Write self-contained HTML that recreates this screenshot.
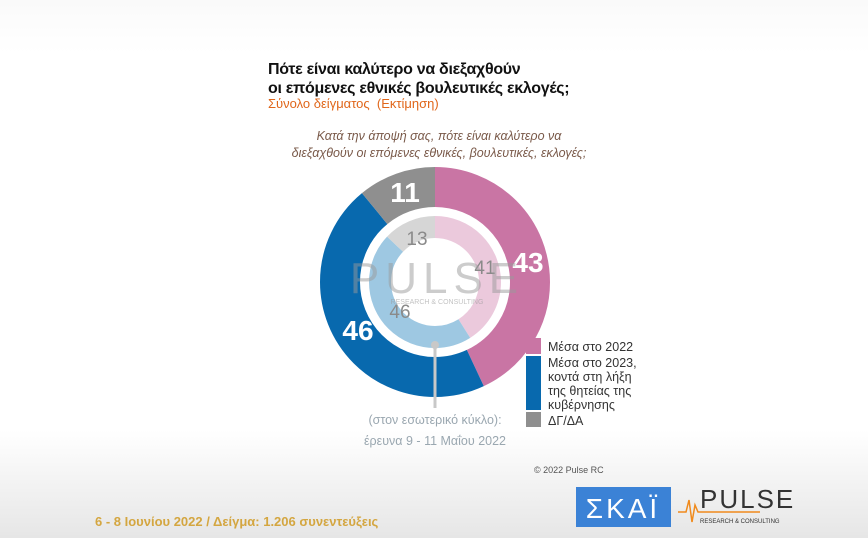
<!DOCTYPE html>
<html><head><meta charset="utf-8"><style>
body{margin:0;width:868px;height:538px;overflow:hidden;background:linear-gradient(#fafafa 0%,#fff 10%,#fff 80%,#e6e6e6 100%);font-family:"Liberation Sans","DejaVu Sans",sans-serif;position:relative}
.a{position:absolute;white-space:nowrap}
</style></head><body>
<div class="a" style="left:268px;top:60px;font-size:16px;font-weight:bold;line-height:19px;color:#111;letter-spacing:-0.3px">Πότε είναι καλύτερο να διεξαχθούν<br>οι επόμενες εθνικές βουλευτικές εκλογές;</div>
<div class="a" style="left:268px;top:96px;font-size:13px;color:#e0661a">Σύνολο δείγματος &nbsp;(Εκτίμηση)</div>
<div class="a" style="left:274px;top:128px;width:330px;text-align:center;font-size:12.5px;font-style:italic;color:#7a5a4a;line-height:17px">Κατά την άποψή σας, πότε είναι καλύτερο να<br>διεξαχθούν οι επόμενες εθνικές, βουλευτικές, εκλογές;</div>
<svg class="a" style="left:0;top:0" width="868" height="538">
<g transform="rotate(-90 435 282)">
<circle cx="435" cy="282" r="95" fill="none" stroke="#c975a4" stroke-width="40" stroke-dasharray="256.7 1000"/>
<circle cx="435" cy="282" r="95" fill="none" stroke="#0869ae" stroke-width="40" stroke-dasharray="0 256.7 274.6 1000"/>
<circle cx="435" cy="282" r="95" fill="none" stroke="#8f8f8f" stroke-width="40" stroke-dasharray="0 531.3 65.6 1000"/>
<circle cx="435" cy="282" r="55" fill="none" stroke="#ebc9dc" stroke-width="22" stroke-dasharray="141.7 1000"/>
<circle cx="435" cy="282" r="55" fill="none" stroke="#9ec8e2" stroke-width="22" stroke-dasharray="0 141.7 158.9 1000"/>
<circle cx="435" cy="282" r="55" fill="none" stroke="#d6d6d6" stroke-width="22" stroke-dasharray="0 300.6 45 1000"/>
</g>
<line x1="435" y1="343" x2="435" y2="408" stroke="#c8c8c8" stroke-width="3"/>
<circle cx="435" cy="345" r="4" fill="#c8c8c8"/>
<g font-weight="bold" fill="#fff" font-size="28" font-family="Liberation Sans Narrow, Liberation Sans, sans-serif">
<text x="405" y="202" text-anchor="middle">11</text>
<text x="528" y="272" text-anchor="middle">43</text>
<text x="358" y="340" text-anchor="middle">46</text>
</g>
<g fill="#8a8a8a" font-size="19" font-family="Liberation Sans Narrow, Liberation Sans, sans-serif">
<text x="417" y="245" text-anchor="middle">13</text>
<text x="485" y="274" text-anchor="middle">41</text>
<text x="400" y="318" text-anchor="middle">46</text>
</g>
<text x="437" y="293" text-anchor="middle" font-size="44" fill="#999" fill-opacity="0.5" letter-spacing="6">PULSE</text>
<text x="437" y="304" text-anchor="middle" font-size="7" fill="#999" fill-opacity="0.6">RESEARCH &amp; CONSULTING</text>
<rect x="526" y="338" width="15" height="16" fill="#c975a4"/>
<rect x="526" y="356" width="15" height="54" fill="#0869ae"/>
<rect x="526" y="412" width="15" height="15" fill="#8f8f8f"/>
<g font-size="12.5" fill="#333"><text x="548" y="351">Μέσα στο 2022</text><text x="548" y="367">Μέσα στο 2023,</text><text x="548" y="381">κοντά στη λήξη</text><text x="548" y="395">της θητείας της</text><text x="548" y="409">κυβέρνησης</text><text x="548" y="425">ΔΓ/ΔΑ</text></g>
<g font-size="12.5" fill="#9aa7b0" text-anchor="middle"><text x="435" y="424">(στον εσωτερικό κύκλο):</text><text x="435" y="445">έρευνα 9 - 11 Μαΐου 2022</text></g>
<text x="534" y="473" font-size="9" fill="#555">© 2022 Pulse RC</text>
<rect x="576" y="487" width="95" height="40" fill="#3b82d6"/>
<text x="623" y="518" text-anchor="middle" font-size="28" fill="#fff" letter-spacing="3">ΣΚΑΪ</text>
<polyline points="678,512 686,512 689,500 692,522 695,505 698,512 760,512" fill="none" stroke="#f08a1c" stroke-width="1.5"/>
<text x="700" y="508" font-size="26" fill="#333" letter-spacing="2">PULSE</text>
<text x="700" y="523" font-size="6" fill="#333">RESEARCH &amp; CONSULTING</text>
<text x="95" y="526" font-size="13" font-weight="bold" fill="#d4a640">6 - 8 Ιουνίου 2022 / Δείγμα: 1.206 συνεντεύξεις</text>
</svg>
</body></html>
